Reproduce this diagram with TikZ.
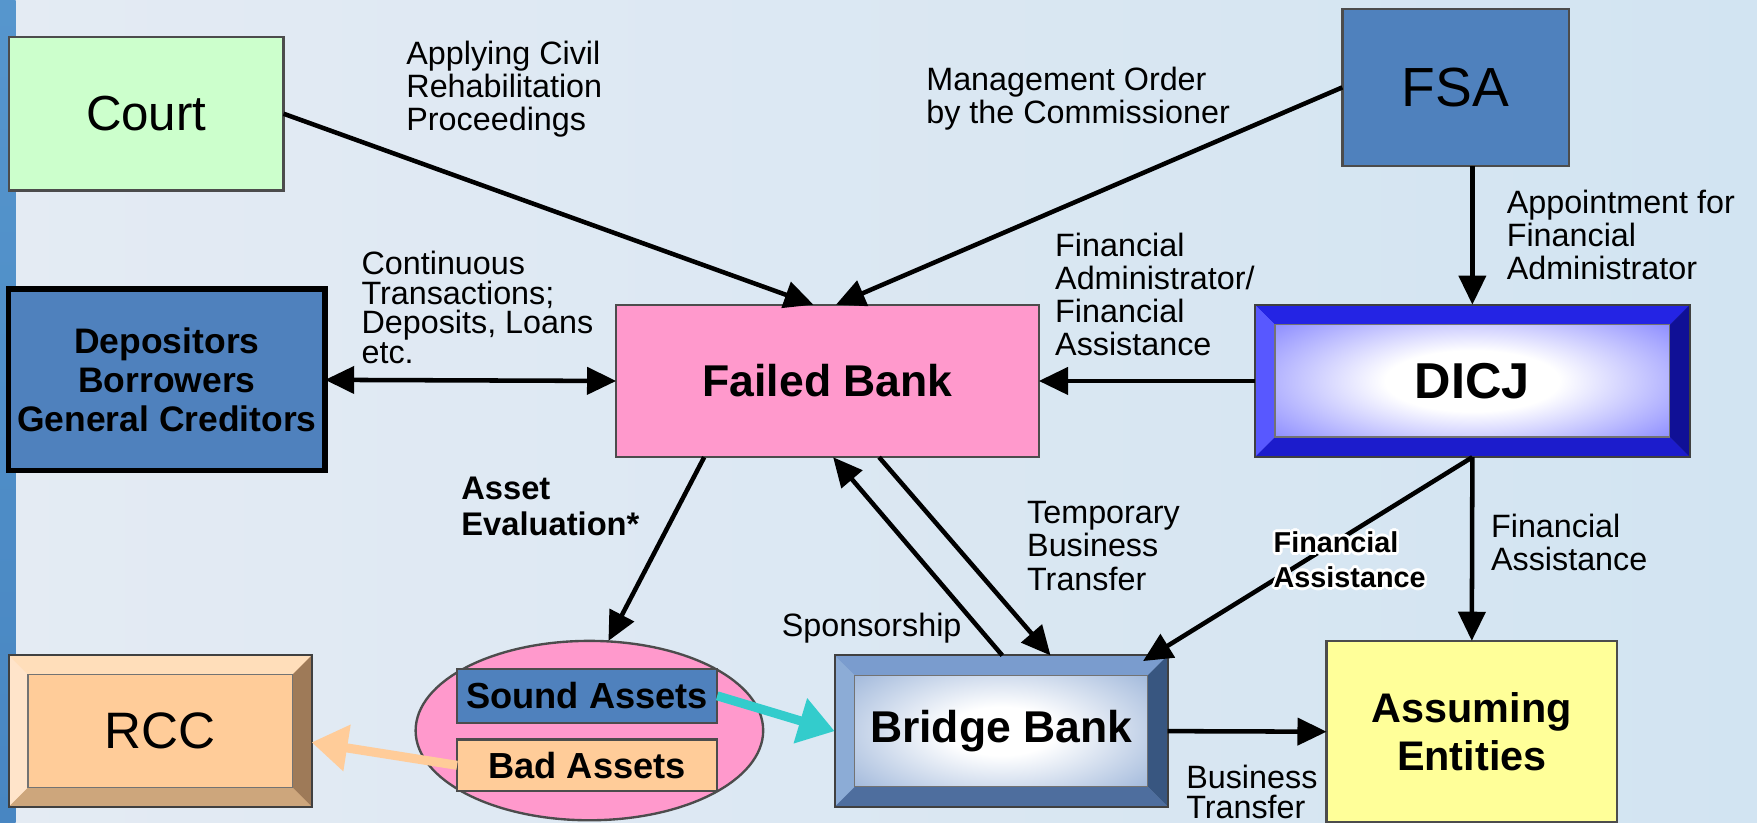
\documentclass[tikz,border=0pt]{standalone}
\usepackage{fontspec}
\setmainfont{Liberation Sans}
\usepackage[copies]{contour}
\contourlength{0.7pt}
\usetikzlibrary{arrows.meta, shapes.geometric}
\definecolor{bgleft}{RGB}{228,235,243}
\definecolor{bgright}{RGB}{210,228,242}
\definecolor{stripa}{RGB}{86,150,205}
\definecolor{stripb}{RGB}{22,100,172}
\definecolor{stripc}{RGB}{72,134,194}
\definecolor{courtgreen}{RGB}{204,255,204}
\definecolor{fsablue}{RGB}{79,129,189}
\definecolor{failpink}{RGB}{255,153,204}
\definecolor{assumeyellow}{RGB}{255,255,153}
\definecolor{peach}{RGB}{255,204,153}
\definecolor{soundcyan}{RGB}{51,204,204}
% bevelled boxes
\definecolor{dicjface}{RGB}{44,44,255}
\definecolor{dicjtop}{RGB}{36,36,228}
\definecolor{dicjleft}{RGB}{88,88,255}
\definecolor{dicjright}{RGB}{16,16,150}
\definecolor{dicjbottom}{RGB}{28,28,204}
\definecolor{bridgeface}{RGB}{86,128,190}
\definecolor{bridgetop}{RGB}{122,156,206}
\definecolor{bridgeleft}{RGB}{140,172,214}
\definecolor{bridgeright}{RGB}{56,86,128}
\definecolor{bridgebottom}{RGB}{78,110,158}
\definecolor{rcctop}{RGB}{255,222,186}
\definecolor{rccleft}{RGB}{255,228,202}
\definecolor{rccright}{RGB}{158,122,88}
\definecolor{rccbottom}{RGB}{205,166,124}
\pgfdeclareradialshading{dicjglow}{\pgfpoint{0bp}{0bp}}{color(0bp)=(white); color(10bp)=(white); color(46bp)=(dicjface); color(75bp)=(dicjface)}
\pgfdeclareradialshading{bridgeglow}{\pgfpoint{0bp}{0bp}}{color(0bp)=(white); color(8bp)=(white); color(46bp)=(bridgeface); color(75bp)=(bridgeface)}
% node, depth, top, left, right, bottom
\newcommand{\bevelframe}[6]{%
  \fill[#3] (#1.north west) -- (#1.north east) -- ([shift={(-#2,#2)}]#1.north east) -- ([shift={(#2,#2)}]#1.north west) -- cycle;
  \fill[#4] (#1.north west) -- ([shift={(#2,#2)}]#1.north west) -- ([shift={(#2,-#2)}]#1.south west) -- (#1.south west) -- cycle;
  \fill[#5] (#1.north east) -- ([shift={(-#2,#2)}]#1.north east) -- ([shift={(-#2,-#2)}]#1.south east) -- (#1.south east) -- cycle;
  \fill[#6] (#1.south west) -- ([shift={(#2,-#2)}]#1.south west) -- ([shift={(-#2,-#2)}]#1.south east) -- (#1.south east) -- cycle;
  \draw[black!55, line width=0.3pt] ([shift={(#2,#2)}]#1.north west) rectangle ([shift={(-#2,-#2)}]#1.south east);
  \draw[black!75, line width=0.5pt] (#1.north west) rectangle (#1.south east);
}

\begin{document}
\begin{tikzpicture}[x=0.01cm, y=-0.01cm, >={Triangle[length=0.26cm,width=0.24cm]},
    plain/.style={draw=black!70, line width=0.6pt, outer sep=0pt, inner sep=2pt, align=center},
    bevelled/.style={outer sep=0pt, inner sep=2pt, align=center},
    conn/.style={->, line width=1.15pt},
    fat/.style={line width=2.3pt, -{Triangle[length=0.32cm,width=0.4cm]}},
    note/.style={anchor=north west, inner sep=0pt, align=left, font=\fontsize{8.2}{8.4}\selectfont},
    big/.style={font=\fontsize{12.5}{14}\selectfont},
    bigbold/.style={font=\bfseries\fontsize{11.3}{13}\selectfont}]
  \useasboundingbox (0,0) rectangle (1568,734);
  \shade[left color=bgleft, right color=bgright] (0,0) rectangle (1568,734);
  \shade[top color=stripa, middle color=stripb, bottom color=stripc] (0,0) rectangle (14,734);

  % boxes
  \node[plain, fill=courtgreen, minimum width=2.45cm, minimum height=1.37cm, big] (court) at (130.5,101.5) {Court};
  \node[plain, fill=fsablue, minimum width=2.02cm, minimum height=1.40cm, font=\fontsize{14}{16}\selectfont] (fsa) at (1299,78) {FSA};
  \node[plain, draw=black, line width=1.3pt, fill=fsablue, minimum width=2.82cm, minimum height=1.62cm,
        font=\bfseries\fontsize{9}{10}\selectfont] (dep) at (149,339) {Depositors\\Borrowers\\General Creditors};
  \node[plain, fill=failpink, minimum width=3.77cm, minimum height=1.36cm, bigbold] (fb) at (738.5,340) {Failed Bank};
  \node[bevelled, shading=dicjglow, minimum width=3.88cm, minimum height=1.36cm, font=\bfseries\fontsize{12.8}{15}\selectfont] (dicj) at (1314,340) {DICJ};
  \bevelframe{dicj}{18}{dicjtop}{dicjleft}{dicjright}{dicjbottom}
  \node[bevelled, fill=peach, minimum width=2.70cm, minimum height=1.35cm, font=\fontsize{13}{15}\selectfont] (rcc) at (143,652.5) {RCC};
  \bevelframe{rcc}{17}{rcctop}{rccleft}{rccright}{rccbottom}
  \node[ellipse, draw=black!70, line width=0.6pt, fill=failpink, minimum width=3.10cm, minimum height=1.60cm, outer sep=0pt] (assets) at (526,652) {};
  \node[plain, fill=fsablue, inner sep=0pt, minimum width=2.32cm, minimum height=0.48cm,
        font=\bfseries\fontsize{9.2}{10}\selectfont] (sound) at (524,621) {Sound Assets};
  \node[plain, fill=peach, inner sep=0pt, minimum width=2.32cm, minimum height=0.46cm,
        font=\bfseries\fontsize{9.2}{10}\selectfont] (bad) at (524,683) {Bad Assets};
  \node[bevelled, shading=bridgeglow, minimum width=2.97cm, minimum height=1.35cm, bigbold] (bb) at (893.5,652.5) {Bridge Bank};
  \bevelframe{bb}{18}{bridgetop}{bridgeleft}{bridgeright}{bridgebottom}
  \node[plain, fill=assumeyellow, minimum width=2.59cm, minimum height=1.62cm,
        font=\bfseries\fontsize{10.5}{12.2}\selectfont] (ae) at (1313.5,653) {Assuming\\Entities};

  % connectors
  \draw[conn] (court.east) -- ([xshift=-0.125cm]fb.north);
  \draw[conn] (fsa.west) -- ([xshift=0.075cm]fb.north);
  \draw[conn] (fsa.south -| dicj.north) -- (dicj.north);
  \draw[conn, <->] (dep.east) -- (fb.west);
  \draw[conn] (dicj.west) -- (fb.east);
  \draw[conn] ([xshift=-1.1cm]fb.south) -- ([xshift=0.17cm]assets.north);
  \draw[conn] ([xshift=0.01cm]bb.north) -- ([xshift=0.05cm]fb.south);
  \draw[conn] ([xshift=0.46cm]fb.south) -- ([xshift=0.44cm]bb.north);
  \draw[conn] (dicj.south) -- ([xshift=-0.22cm,yshift=-0.05cm]bb.north east);
  \draw[conn] (dicj.south) -- (ae.north);
  \draw[conn] (bb.east) -- (ae.west);
  \draw[fat, soundcyan] (sound.east) -- (bb.west);
  \draw[fat, peach] (bad.west) -- ([yshift=-0.1cm]rcc.east);

  % labels
  \node[note] (lcivil) at (362,36) {Applying Civil\\Rehabilitation\\Proceedings};
  \node[note] (lorder) at (826,59) {Management Order\\by the Commissioner};
  \node[note] (lappoint) at (1344,169) {Appointment for\\Financial\\Administrator};
  \node[note] (ladmin) at (941,207) {Financial\\Administrator/\\Financial\\Assistance};
  \node[note, font=\fontsize{8.2}{7.6}\selectfont] (ltrans) at (322,223) {Continuous\\Transactions;\\Deposits, Loans\\etc.};
  \node[note, font=\bfseries\fontsize{8.3}{9.1}\selectfont] (leval) at (411,425) {Asset\\Evaluation*};
  \node[note] (ltemp) at (916,447) {Temporary\\Business\\Transfer};
  \node[note, font=\bfseries\fontsize{7.3}{8.8}\selectfont] (lassist) at (1136,474) {\contour{white}{Financial}\\\contour{white}{Assistance}};
  \node[note] (lassist2) at (1330,458) {Financial\\Assistance};
  \node[note] (lspons) at (697,546) {Sponsorship};
  \node[note, font=\fontsize{8.2}{7.6}\selectfont] (lbiz) at (1058,682) {Business\\Transfer};
\end{tikzpicture}
\end{document}
